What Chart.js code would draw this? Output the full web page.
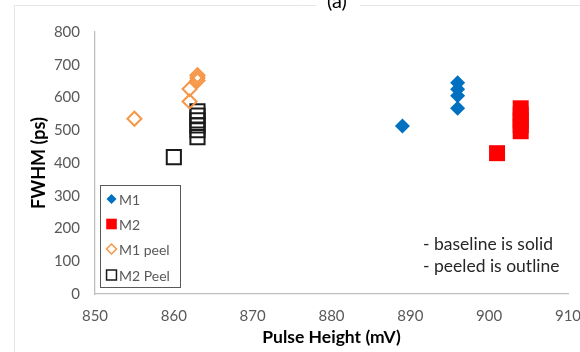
<!DOCTYPE html>
<html>
<head>
<meta charset="utf-8">
<style>
  html, body { margin: 0; padding: 0; background: #fff; }
  #wrap { width: 580px; height: 352px; position: relative; }
</style>
<script src="https://cdn.jsdelivr.net/npm/chart.js@4/dist/chart.umd.min.js"></script>
</head>
<body>
<div id="wrap"><canvas id="c" width="580" height="352"></canvas></div>
<script>
// Pulse height (mV) and FWHM (ps) for each module, baseline and peeled
const m1X = [889, 896, 896, 896, 896];
const m1Y = [513, 645, 625, 605, 567];

const m2X = [901, 904, 904, 904, 904, 904];
const m2Y = [430, 497, 515, 530, 548, 567];

const m1PeelX = [855, 862, 862, 863, 863, 863];
const m1PeelY = [535, 588, 626, 652, 660, 668];

const m2PeelX = [860, 863, 863, 863, 863, 863, 863];
const m2PeelY = [418, 479, 500, 515, 530, 545, 558];

const xTicks = [850, 860, 870, 880, 890, 900, 910];
const yTicks = [0, 100, 200, 300, 400, 500, 600, 700, 800];

const seriesNames = ['M1', 'M2', 'M1 peel', 'M2 Peel'];
const notes = ['- baseline is solid', '- peeled is outline'];
const panelLabel = '(a)';

const TEXT = '#595959';
const FONT = 'Lato, "Open Sans", sans-serif';

function pts(xs, ys) { return xs.map((x, i) => ({ x: x, y: ys[i] })); }

const datasets = [
  { label: seriesNames[0], data: pts(m1X, m1Y), pointStyle: 'rectRot', pointRadius: 7.5,
    backgroundColor: '#0070c0', borderColor: '#0070c0', borderWidth: 0 },
  { label: seriesNames[1], data: pts(m2X, m2Y), pointStyle: 'rect', pointRadius: 11.3,
    backgroundColor: '#ff0000', borderColor: '#ff0000', borderWidth: 0 },
  { label: seriesNames[2], data: pts(m1PeelX, m1PeelY), pointStyle: 'rectRot', pointRadius: 7,
    backgroundColor: 'rgba(255,255,255,0)', borderColor: '#f79646', borderWidth: 2 },
  { label: seriesNames[3], data: pts(m2PeelX, m2PeelY), pointStyle: 'rect', pointRadius: 10,
    backgroundColor: 'rgba(255,255,255,0)', borderColor: '#1a1a1a', borderWidth: 2 }
];

// Frame, panel label, in-plot legend and notes
const decor = {
  id: 'decor',
  beforeDraw(chart) {
    const ctx = chart.ctx;
    ctx.save();
    ctx.strokeStyle = '#e6e6e6';
    ctx.lineWidth = 1;
    ctx.beginPath();
    ctx.moveTo(14.5, 352);
    ctx.lineTo(14.5, 5.5);
    ctx.lineTo(580, 5.5);
    ctx.stroke();
    ctx.fillStyle = '#fff';
    ctx.fillRect(316, 0, 44, 7);
    ctx.fillStyle = '#000';
    ctx.font = '20px ' + FONT;
    ctx.textAlign = 'center';
    ctx.textBaseline = 'alphabetic';
    ctx.fillText(panelLabel, 337, 8);
    ctx.restore();
  },
  afterDraw(chart) {
    const ctx = chart.ctx;
    ctx.save();
    // legend box
    const bx = 100.5, by = 185.5, bw = 80, bh = 102;
    ctx.fillStyle = '#fff';
    ctx.fillRect(bx, by, bw, bh);
    ctx.strokeStyle = '#595959';
    ctx.lineWidth = 1;
    ctx.strokeRect(bx, by, bw, bh);
    const rows = [199, 224, 249, 275];
    const icons = [
      { style: 'rectRot', r: 5, fill: '#0070c0', stroke: '#0070c0', w: 0 },
      { style: 'rect', r: 7.5, fill: '#ff0000', stroke: '#ff0000', w: 0 },
      { style: 'rectRot', r: 5, fill: 'rgba(0,0,0,0)', stroke: '#f79646', w: 1.5 },
      { style: 'rect', r: 7, fill: 'rgba(0,0,0,0)', stroke: '#1a1a1a', w: 1.5 }
    ];
    chart.data.datasets.forEach((ds, i) => {
      const ic = icons[i];
      ctx.fillStyle = ic.fill;
      ctx.strokeStyle = ic.stroke;
      ctx.lineWidth = ic.w;
      Chart.helpers.drawPoint(ctx, { pointStyle: ic.style, radius: ic.r, borderWidth: ic.w }, 111.5, rows[i]);
      ctx.fillStyle = TEXT;
      ctx.font = '14px ' + FONT;
      ctx.textAlign = 'left';
      ctx.textBaseline = 'middle';
      ctx.fillText(ds.label, 119, rows[i] + 1);
    });
    // notes
    ctx.fillStyle = '#262626';
    ctx.font = '17.5px ' + FONT;
    ctx.textAlign = 'left';
    ctx.textBaseline = 'middle';
    notes.forEach((t, i) => ctx.fillText(t, 423, 244 + i * 22));
    ctx.restore();
  }
};

new Chart(document.getElementById('c'), {
  type: 'scatter',
  data: { datasets: datasets },
  options: {
    responsive: false,
    animation: false,
    devicePixelRatio: 1,
    layout: { padding: { left: 0, right: 12, top: 32, bottom: 0 } },
    plugins: { legend: { display: false }, tooltip: { enabled: false } },
    elements: { point: { hoverRadius: 7 } },
    scales: {
      x: {
        type: 'linear', min: 850, max: 910,
        afterBuildTicks(s) { s.ticks = xTicks.map(v => ({ value: v })); },
        afterFit(s) { s.height = 58; s.paddingLeft = 0; s.paddingRight = 0; },
        grid: { display: false, drawTicks: false },
        border: { display: true, color: '#bfbfbf', width: 1.3 },
        ticks: { padding: 13, maxRotation: 0, color: TEXT, font: { family: FONT, size: 15 } },
        title: { display: true, text: 'Pulse Height (mV)', color: '#000',
          font: { family: FONT, size: 17.5, weight: 'bold' }, padding: { top: 0, bottom: 4 } }
      },
      y: {
        type: 'linear', min: 0, max: 800,
        afterBuildTicks(s) { s.ticks = yTicks.map(v => ({ value: v })); },
        afterFit(s) { s.width = 95; s.paddingTop = 0; s.paddingBottom = 0; },
        grid: { display: false, drawTicks: false },
        border: { display: true, color: '#bfbfbf', width: 1.3 },
        ticks: { padding: 15, color: TEXT, font: { family: FONT, size: 15 } },
        title: { display: true, text: 'FWHM (ps)', color: '#000',
          font: { family: FONT, size: 18, weight: 'bold' }, padding: { top: 28, bottom: 0 } }
      }
    }
  },
  plugins: [decor]
});
</script>
</body>
</html>
